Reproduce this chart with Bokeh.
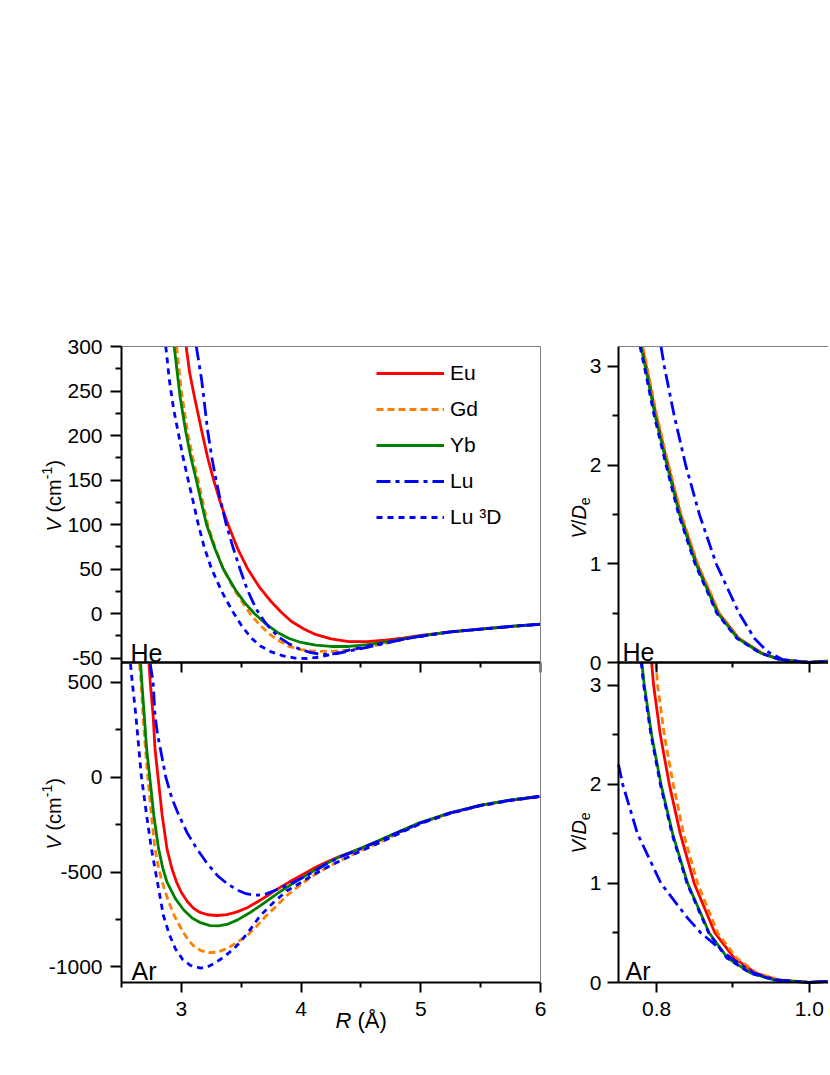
from bokeh.plotting import figure
from bokeh.models import (LinearAxis, FixedTicker, Range1d, Label, Legend, LegendItem,
                          PrintfTickFormatter)
from bokeh.layouts import row
from bokeh.embed import file_html
from bokeh.resources import INLINE

FONT = "Liberation Sans"

# ---------------- data ----------------
# Left panels: V (cm^-1) against R (Angstrom)
he_eu_r = [3.04, 3.07, 3.11, 3.17, 3.22, 3.27, 3.33, 3.39, 3.47, 3.555, 3.65, 3.74, 3.83, 3.92, 4.02, 4.12, 4.25, 4.40, 4.55, 4.70, 4.85, 5.0, 5.25, 5.5, 5.75, 6.0]
he_eu_v = [300, 270, 243, 205, 175, 150, 123, 100, 73, 50, 30, 15, 2, -9, -17, -23.5, -28.5, -31.5, -31.5, -30, -27.5, -24.5, -20.5, -17.5, -14.5, -12]
he_gd_r = [2.96, 3.0, 3.05, 3.10, 3.14, 3.18, 3.22, 3.28, 3.35, 3.45, 3.57, 3.65, 3.74, 3.82, 3.90, 4.0, 4.125, 4.25, 4.40, 4.55, 4.70, 4.85, 5.0, 5.25, 5.5, 5.75, 6.0]
he_gd_v = [300, 250, 205, 172, 150, 125, 100, 75, 50, 25, 0.5, -12, -23.5, -31, -37, -40.5, -42.5, -42.5, -41, -38, -33.5, -29, -25.5, -20.5, -17.5, -14.5, -12]
he_yb_r = [2.94, 2.99, 3.036, 3.08, 3.125, 3.17, 3.21, 3.28, 3.35, 3.45, 3.53, 3.61, 3.70, 3.80, 3.90, 4.0, 4.12, 4.25, 4.40, 4.55, 4.70, 4.85, 5.0, 5.25, 5.5, 5.75, 6.0]
he_yb_v = [300, 243, 205, 175, 150, 123, 100, 73, 50, 27, 12, 0, -11, -21, -28, -32.5, -35.5, -37, -37, -35, -32, -28.5, -25, -20.5, -17.5, -14.5, -12]
he_lu_r = [3.125, 3.17, 3.22, 3.255, 3.29, 3.32, 3.375, 3.43, 3.49, 3.55, 3.625, 3.70, 3.75, 3.82, 3.90, 3.98, 4.07, 4.18, 4.30, 4.40, 4.55, 4.70, 4.85, 5.0, 5.25, 5.5, 5.75, 6.0]
he_lu_v = [300, 262, 205, 175, 150, 131, 100, 75, 50, 27, 5, -10, -18, -27, -34, -39.5, -43.5, -46, -45, -42, -38, -33.5, -29, -25.5, -20.5, -17.5, -14.5, -12]
he_lud_r = [2.87, 2.90, 2.935, 2.97, 3.01, 3.055, 3.10, 3.14, 3.19, 3.25, 3.34, 3.43, 3.50, 3.58, 3.66, 3.75, 3.85, 3.95, 4.05, 4.15, 4.25, 4.40, 4.55, 4.70, 4.85, 5.0, 5.25, 5.5, 5.75, 6.0]
he_lud_v = [300, 262, 230, 206, 178, 151, 125, 101, 75, 51, 24, 2, -13, -27, -36.5, -43, -47.5, -50, -50.5, -49, -46, -41, -37, -33, -29, -25.5, -20.5, -17.5, -14.5, -12]

ar_eu_r = [2.73, 2.74, 2.764, 2.78, 2.805, 2.84, 2.88, 2.92, 2.96, 3.0, 3.05, 3.10, 3.15, 3.22, 3.30, 3.38, 3.46, 3.55, 3.63, 3.72, 3.80, 3.90, 4.0, 4.10, 4.21, 4.32, 4.49, 4.65, 4.82, 4.99, 5.24, 5.49, 5.74, 5.99]
ar_eu_v = [597, 500, 325, 149, 0, -202, -378, -480, -553, -608, -655, -690, -711, -725, -729, -724, -711, -688, -659, -624, -590, -553, -518, -482, -448, -418, -377, -335, -288, -242, -190, -150, -122, -102]
ar_gd_r = [2.65, 2.664, 2.68, 2.70, 2.72, 2.75, 2.78, 2.81, 2.84, 2.89, 2.94, 3.0, 3.05, 3.10, 3.16, 3.23, 3.30, 3.38, 3.46, 3.55, 3.63, 3.71, 3.80, 3.88, 4.0, 4.10, 4.21, 4.32, 4.49, 4.65, 4.82, 4.99, 5.24, 5.49, 5.74, 5.99]
ar_gd_v = [597, 500, 325, 149, 0, -202, -378, -480, -553, -650, -729, -800, -852, -888, -913, -925, -922, -904, -873, -834, -785, -729, -676, -624, -565, -520, -478, -442, -390, -345, -294, -245, -191, -151, -123, -102]
ar_yb_r = [2.66, 2.67, 2.69, 2.71, 2.736, 2.77, 2.81, 2.845, 2.88, 2.95, 3.02, 3.09, 3.16, 3.24, 3.31, 3.38, 3.47, 3.575, 3.66, 3.74, 3.84, 3.94, 4.05, 4.21, 4.32, 4.49, 4.65, 4.82, 4.99, 5.24, 5.49, 5.74, 5.99]
ar_yb_v = [597, 500, 325, 149, 0, -202, -378, -480, -553, -640, -700, -742, -767, -782, -784, -776, -752, -713, -677, -641, -597, -557, -515, -455, -421, -377, -334, -287, -241, -189, -149, -121, -101]
ar_lu_r = [2.74, 2.764, 2.78, 2.80, 2.825, 2.87, 2.92, 2.98, 3.05, 3.13, 3.21, 3.30, 3.38, 3.46, 3.53, 3.60, 3.66, 3.71, 3.80, 3.94, 4.05, 4.21, 4.32, 4.49, 4.65, 4.82, 4.99, 5.24, 5.49, 5.74, 5.99]
ar_lu_v = [597, 500, 325, 230, 149, 0, -110, -202, -295, -378, -450, -518, -560, -592, -612, -622, -621, -615, -592, -553, -518, -458, -422, -380, -336, -289, -243, -190, -150, -122, -102]
ar_lud_r = [2.575, 2.59, 2.62, 2.645, 2.667, 2.71, 2.75, 2.80, 2.85, 2.90, 2.95, 3.01, 3.075, 3.16, 3.22, 3.27, 3.35, 3.44, 3.50, 3.56, 3.66, 3.77, 3.88, 4.0, 4.10, 4.21, 4.32, 4.49, 4.65, 4.82, 4.99, 5.24, 5.49, 5.74, 5.99]
ar_lud_v = [597, 500, 325, 149, 0, -202, -378, -553, -729, -830, -904, -960, -992, -1006, -1000, -983, -950, -904, -862, -816, -729, -660, -600, -555, -515, -478, -443, -392, -347, -297, -247, -192, -152, -124, -103]

# Right panels: V/De against R/Re
rhe_eu_r = [0.781, 0.7863, 0.7993, 0.8148, 0.8313, 0.8528, 0.8813, 0.9073, 0.938, 0.9637, 1.0, 1.03]
rhe_eu_v = [3.2, 3.0, 2.5, 2.0, 1.5, 1.0, 0.5, 0.246, 0.094, 0.027, 0.0, 0.017]
rhe_gd_r = [0.7817, 0.7872, 0.8002, 0.8157, 0.8322, 0.8537, 0.8822, 0.908, 0.9385, 0.964, 1.0, 1.03]
rhe_gd_v = [3.2, 3.0, 2.5, 2.0, 1.5, 1.0, 0.5, 0.246, 0.094, 0.027, 0.0, 0.017]
rhe_yb_r = [0.7795, 0.785, 0.798, 0.8135, 0.830, 0.8515, 0.880, 0.906, 0.937, 0.963, 1.0, 1.03]
rhe_yb_v = [3.2, 3.0, 2.5, 2.0, 1.5, 1.0, 0.5, 0.246, 0.094, 0.027, 0.0, 0.017]
rhe_lu_r = [0.8057, 0.81, 0.823, 0.838, 0.856, 0.878, 0.908, 0.928, 0.945, 0.965, 1.0, 1.03]
rhe_lu_v = [3.2, 3.0, 2.5, 2.0, 1.5, 1.0, 0.5, 0.246, 0.111, 0.03, 0.0, 0.017]
rhe_lud_r = [0.7783, 0.7838, 0.7968, 0.8123, 0.8288, 0.8503, 0.8788, 0.905, 0.936, 0.9625, 1.0, 1.03]
rhe_lud_v = [3.2, 3.0, 2.5, 2.0, 1.5, 1.0, 0.5, 0.246, 0.094, 0.027, 0.0, 0.017]

rar_eu_r = [0.7934, 0.796, 0.8048, 0.8166, 0.831, 0.8493, 0.8764, 0.9017, 0.930, 0.9585, 1.0, 1.03]
rar_eu_v = [3.23, 3.0, 2.5, 2.0, 1.5, 1.0, 0.5, 0.246, 0.094, 0.027, 0.0, 0.015]
rar_gd_r = [0.799, 0.8013, 0.81, 0.8218, 0.8354, 0.8537, 0.88, 0.905, 0.932, 0.9607, 1.0, 1.03]
rar_gd_v = [3.23, 3.0, 2.5, 2.0, 1.5, 1.0, 0.5, 0.246, 0.094, 0.027, 0.0, 0.015]
rar_yb_r = [0.7806, 0.7838, 0.7934, 0.8057, 0.821, 0.8406, 0.869, 0.893, 0.9236, 0.954, 1.0, 1.03]
rar_yb_v = [3.23, 3.0, 2.5, 2.0, 1.5, 1.0, 0.5, 0.246, 0.094, 0.027, 0.0, 0.015]
rar_lu_r = [0.75, 0.7555, 0.775, 0.8057, 0.8406, 0.858, 0.8974, 0.928, 0.954, 1.0, 1.03]
rar_lu_v = [2.2, 2.0, 1.5, 1.0, 0.65, 0.5, 0.246, 0.094, 0.027, 0.0, 0.015]
rar_lud_r = [0.7798, 0.783, 0.7926, 0.8049, 0.8202, 0.8398, 0.8682, 0.8922, 0.923, 0.9535, 1.0, 1.03]
rar_lud_v = [3.23, 3.0, 2.5, 2.0, 1.5, 1.0, 0.5, 0.246, 0.094, 0.027, 0.0, 0.015]

names = ["Eu", "Gd", "Yb", "Lu", "Lu \u00b3D"]
colors = ["#ff0000", "#ff8000", "#008000", "#0000ff", "#0000ff"]
dashes = ["solid", "7 4", "solid", "14 5 4 5", "6 5"]

he_ticks, he_minor = [-50, 0, 50, 100, 150, 200, 250, 300], [-25, 25, 75, 125, 175, 225, 275]
ar_ticks, ar_minor = [-1000, -500, 0, 500], [-750, -250, 250]
red_ticks, red_minor = [0, 1, 2, 3], [0.5, 1.5, 2.5]
r_ticks, r_minor = [3, 4, 5, 6], [2.5, 3.5, 4.5, 5.5]
rr_ticks, rr_minor = [0.8, 1.0], [0.9]

LW = 2.8
TICK_FS = "21px"

# ---------------- geometry (page pixels) ----------------
H = 1040                 # canvas height of both columns
WL = 552                 # left column width
WR = 828 - WL            # right column width
PL, PR = 121, 540        # left panels, x of edges
QL = 618                 # right panels, x of axis
TOP, MID, BOT = 346, 662, 982

XL = (2.5, 6.0)
XR = (0.75, 0.75 + (828 - QL) / 763.0)
Y_HE = (-55, 300)
Y_AR = (-1082, 604)
Y_RHE = (0, 3.2)
Y_RAR = (0, 3.23)


def span(lo, hi, p_lo, p_hi, c_lo, c_hi):
    s = (hi - lo) / (p_hi - p_lo)
    return Range1d(lo - (p_lo - c_lo) * s, hi + (c_hi - p_hi) * s)


def vspan(lo, hi, px_top, px_bot):
    s = (hi - lo) / (px_bot - px_top)
    return Range1d(lo - (H - px_bot) * s, hi + px_top * s)


def style_axis(ax):
    ax.axis_line_width = 2
    ax.axis_line_color = "black"
    ax.major_tick_line_width = 2
    ax.minor_tick_line_width = 2
    ax.major_tick_line_color = "black"
    ax.minor_tick_line_color = "black"
    ax.major_tick_out = 11
    ax.major_tick_in = 0
    ax.minor_tick_out = 6
    ax.minor_tick_in = 0
    ax.major_label_text_font = FONT
    ax.major_label_text_font_size = TICK_FS
    ax.major_label_text_color = "black"
    ax.major_label_standoff = 8
    return ax


def plain_line(loc, bounds, yname="default", color="black", width=2, ticks=(), tick_len=0):
    ax = LinearAxis(ticker=FixedTicker(ticks=[], minor_ticks=list(ticks)), fixed_location=loc,
                    bounds=bounds, y_range_name=yname)
    ax.axis_line_color = color
    ax.axis_line_width = width
    ax.minor_tick_in = tick_len
    ax.minor_tick_out = 0
    ax.minor_tick_line_width = 2
    ax.minor_tick_line_color = "black"
    ax.major_tick_in = 0
    ax.major_tick_out = 0
    return ax


def make_fig(xr, y_ar, y_he, w):
    p = figure(x_range=xr, y_range=y_ar, width=w, height=H,
               min_border_left=0, min_border_right=0, min_border_top=0, min_border_bottom=0,
               x_axis_type=None, y_axis_type=None, output_backend="svg", toolbar_location=None,
               title=None)
    p.extra_y_ranges = {"he": y_he}
    p.outline_line_color = None
    p.background_fill_color = "white"
    p.border_fill_color = "white"
    return p


pL = make_fig(span(*XL, PL, PR, 0, WL), vspan(*Y_AR, MID, BOT), vspan(*Y_HE, TOP, MID), WL)
pR = make_fig(span(*XR, QL, 828, WL, 828), vspan(*Y_RAR, MID, BOT), vspan(*Y_RHE, TOP, MID), WR)

intfmt = PrintfTickFormatter(format="%d")

# value axes
for p, x0, yr_he, yr_ar, tk_he, mn_he, tk_ar, mn_ar, sto in (
        (pL, XL[0], Y_HE, Y_AR, he_ticks, he_minor, ar_ticks, ar_minor, 8),
        (pR, XR[0], Y_RHE, Y_RAR, red_ticks, red_minor, red_ticks, red_minor, 6)):
    a_he = style_axis(LinearAxis(ticker=FixedTicker(ticks=tk_he, minor_ticks=mn_he), fixed_location=x0,
                                 bounds=yr_he, y_range_name="he", formatter=intfmt))
    a_ar = style_axis(LinearAxis(ticker=FixedTicker(ticks=tk_ar, minor_ticks=mn_ar), fixed_location=x0,
                                 bounds=yr_ar, formatter=intfmt))
    a_he.major_label_standoff = sto
    a_ar.major_label_standoff = sto
    p.add_layout(a_he, "left")
    p.add_layout(a_ar, "left")

# bottom axes with labels
bx = style_axis(LinearAxis(ticker=FixedTicker(ticks=r_ticks, minor_ticks=r_minor), fixed_location=Y_AR[0],
                           bounds=XL, formatter=intfmt))
bx.major_tick_out = 10
bx.minor_tick_out = 5
bx.major_label_standoff = 9
pL.add_layout(bx, "below")
bx2 = style_axis(LinearAxis(ticker=FixedTicker(ticks=rr_ticks, minor_ticks=rr_minor), fixed_location=Y_RAR[0],
                            bounds=XR, formatter=PrintfTickFormatter(format="%.1f")))
bx2.major_tick_out = 10
bx2.minor_tick_out = 5
bx2.major_label_standoff = 9
pR.add_layout(bx2, "below")

# boundary between the two panels: thick line, ticks pointing down into the lower panel
pL.add_layout(plain_line(Y_AR[1], XL, ticks=r_ticks, tick_len=10), "above")
pL.add_layout(plain_line(Y_AR[1], XL, ticks=r_minor[1:], tick_len=5), "above")
pR.add_layout(plain_line(Y_RAR[1], XR, ticks=rr_ticks, tick_len=10), "above")
pR.add_layout(plain_line(Y_RAR[1], XR, ticks=rr_minor, tick_len=5), "above")

# thin grey frame edges (top and right)
pL.add_layout(plain_line(Y_HE[1], XL, yname="he", color="#808080", width=1), "above")
pR.add_layout(plain_line(Y_RHE[1], XR, yname="he", color="#808080", width=1), "above")
pL.add_layout(plain_line(XL[1], Y_HE, yname="he", color="#808080", width=1), "right")
pL.add_layout(plain_line(XL[1], Y_AR, color="#808080", width=1), "right")


def draw(p, xs, ys, yname="default"):
    rs = []
    for x, y, c, d in zip(xs, ys, colors, dashes):
        rs.append(p.line(x, y, line_color=c, line_width=LW, line_dash=d, y_range_name=yname))
    return rs


r1 = draw(pL, [he_eu_r, he_gd_r, he_yb_r, he_lu_r, he_lud_r], [he_eu_v, he_gd_v, he_yb_v, he_lu_v, he_lud_v], "he")
draw(pL, [ar_eu_r, ar_gd_r, ar_yb_r, ar_lu_r, ar_lud_r], [ar_eu_v, ar_gd_v, ar_yb_v, ar_lu_v, ar_lud_v])
draw(pR, [rhe_eu_r, rhe_gd_r, rhe_yb_r, rhe_lu_r, rhe_lud_r], [rhe_eu_v, rhe_gd_v, rhe_yb_v, rhe_lu_v, rhe_lud_v], "he")
draw(pR, [rar_eu_r, rar_gd_r, rar_yb_r, rar_lu_r, rar_lud_r], [rar_eu_v, rar_gd_v, rar_yb_v, rar_lu_v, rar_lud_v])

# legend (screen units from the frame's bottom-left corner)
leg = Legend(items=[LegendItem(label=n, renderers=[r]) for n, r in zip(names, r1)],
             location=(376, H - 529), orientation="vertical")
leg.background_fill_alpha = 0
leg.border_line_color = None
leg.padding = 0
leg.margin = 0
leg.spacing = 12
leg.glyph_width = 68
leg.glyph_height = 20
leg.label_height = 20
leg.label_standoff = 6
leg.label_text_font = FONT
leg.label_text_font_size = "21px"
leg.label_text_color = "black"
pL.add_layout(leg, "center")


def label(p, text, x, y_page, size=20, style="normal", angle=0):
    # x: pixels from the column's left edge; y_page: baseline, page pixels from the top.
    # Bokeh's text box places the alphabetic baseline 0.2 em lower (line height 1.2); undo that.
    d = 0.2 * size
    if angle == 0:
        yy, xx = H - (y_page - d), x
    else:
        yy, xx = H - y_page, x - d
    lab = Label(x=xx, y=yy, x_units="screen", y_units="screen", text=text, angle=angle,
                angle_units="deg")
    lab.text_font = FONT
    lab.text_font_size = f"{size}px"
    lab.text_font_style = style
    lab.text_color = "black"
    lab.text_align = "left"
    lab.text_baseline = "alphabetic"
    p.add_layout(lab)


def rich(p, pieces, x0, y0, vertical=True):
    pos = 0.0
    for text, size, style, shift, adv in pieces:
        if vertical:
            label(p, text, x0 - shift, y0 - pos, size, style, 90)
        else:
            label(p, text, x0 + pos, y0 - shift, size, style, 0)
        pos += adv * size


# panel tags
label(pL, "He", PL + 9, 657, 25)
label(pL, "Ar", PL + 10, 975, 25)
label(pR, "He", QL - WL + 4, 656, 25)
label(pR, "Ar", QL - WL + 7, 975, 25)

vcm = [("V", 20, "italic", 0, 0.667 + 0.278), ("(cm", 20, "normal", 0, 1.666),
       ("-1", 14, "normal", 8, 0.889), (")", 20, "normal", 0, 0.333)]
rich(pL, vcm, 57, 531)
rich(pL, vcm, 57, 849)
vde = [("V", 20, "italic", 0, 0.667), ("/", 20, "normal", 0, 0.278), ("D", 20, "italic", 0, 0.722),
       ("e", 14, "normal", -5, 0.556)]
rich(pR, vde, 582 - WL, 538)
rich(pR, vde, 582 - WL, 853)
rl = [("R", 22, "italic", 0, 0.722 + 0.278), ("(\u00c5)", 22, "normal", 0, 1.0)]
rich(pL, rl, 335, 1024, vertical=False)

layout = row(pL, pR)
open("out.html", "w").write(file_html(layout, INLINE))
